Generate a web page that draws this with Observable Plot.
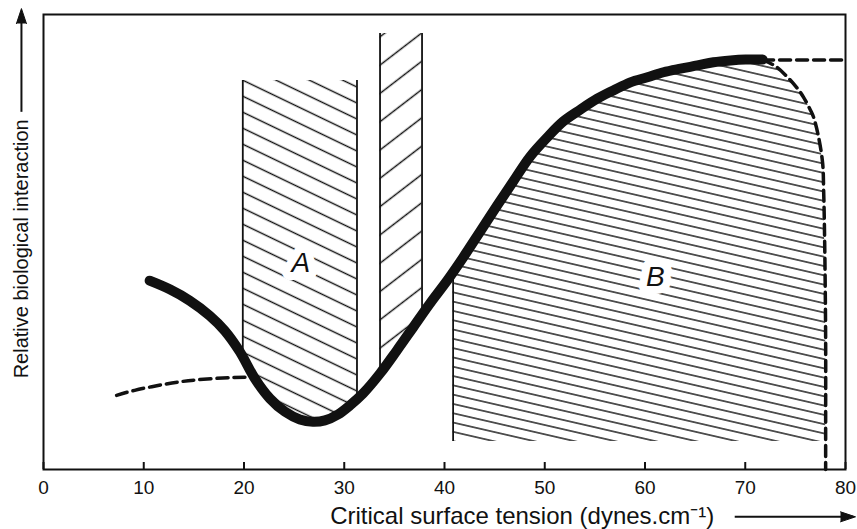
<!DOCTYPE html>
<html>
<head>
<meta charset="utf-8">
<script src="https://cdn.jsdelivr.net/npm/d3@7"></script>
<script src="https://cdn.jsdelivr.net/npm/@observablehq/plot@0.6"></script>
<style>
  html, body { margin: 0; padding: 0; background: #fff; }
  svg { display: block; }
</style>
</head>
<body>
<div id="chart"></div>
<script>
// ---- data (x: critical surface tension, dynes/cm; y: relative biological interaction, arbitrary 0-100) ----
const xTicks = [0, 10, 20, 30, 40, 50, 60, 70, 80];

// thick solid response curve
const curveX = [10.59, 12.59, 14.59, 16.58, 18.08, 19.58, 21.08, 22.58, 24.08, 25.57, 26.87, 28.07, 29.37, 30.57, 31.87, 33.57, 35.26, 36.86, 38.56, 40.26, 41.86, 43.56, 45.25, 46.85, 48.55, 50.25, 51.85, 53.55, 55.24, 56.84, 58.54, 60.24, 61.84, 63.54, 65.23, 66.83, 68.53, 70.03, 71.73];
const curveY = [41.5, 39.6, 37.1, 33.8, 30.5, 25.9, 20.0, 15.6, 12.7, 11.0, 10.5, 10.8, 12.1, 14.1, 16.7, 21.1, 26.2, 31.2, 36.5, 41.5, 46.6, 52.3, 58.0, 63.3, 68.8, 73.0, 76.5, 79.1, 81.5, 83.3, 85.1, 86.2, 87.3, 88.1, 88.8, 89.5, 89.9, 90.1, 90.1];

// dashed extrapolation, low-energy side
const dashLeftX = [7.29, 9.09, 11.29, 13.39, 15.28, 17.88, 20.28];
const dashLeftY = [16.3, 17.4, 18.4, 19.2, 19.7, 20.1, 20.3];

// dashed plateau and dashed drop, high-energy side
const plateauX = [71.73, 80];
const plateauY = [90.0, 90.0];
const dropX = [71.73, 73.03, 74.23, 75.22, 75.82, 76.52, 76.82, 77.32, 77.72, 77.82, 77.92, 78.02, 78.02, 78.02];
const dropY = [90.1, 88.6, 86.2, 83.7, 81.8, 78.9, 77.4, 73.0, 67.3, 61.3, 50.3, 28.4, 10.8, 0];

// hatched zones
const zoneA = [19.88, 31.27, 85.5];   // left, right, top
const zoneC = [33.57, 37.76, 95.8];   // left, right, top
const zoneB = [40.86, 6.15];          // left, bottom

// zone labels
const labelText = ["A", "B"];
const labelX = [25.67, 61.04];
const labelY = [45.3, 42.4];

// axis titles (annotation positions in data units)
const yTitle = "Relative biological interaction";
const yTitlePos = [-2.2, 48.5];
const yArrowY = [78.5, 101.3];
const xTitle = "Critical surface tension (dynes.cm\u207B\u00B9)";
const xTitlePos = [47.75, -10.3];
const xArrowX = [69.0, 81.0];
const xArrowY = -10.4;

// ---- helpers ----
const pts = (xs, ys) => xs.map((x, i) => ({x, y: ys[i]}));
function interp(xs, ys, x) {
  for (let i = 1; i < xs.length; i++) {
    if (x <= xs[i]) {
      const t = (x - xs[i - 1]) / (xs[i] - xs[i - 1]);
      return ys[i - 1] + t * (ys[i] - ys[i - 1]);
    }
  }
  return ys[ys.length - 1];
}
function bandUnder(x1, x2, top) {
  const out = [{x: x1, y1: interp(curveX, curveY, x1), y2: top}];
  curveX.forEach((x, i) => { if (x > x1 && x < x2) out.push({x, y1: curveY[i], y2: top}); });
  out.push({x: x2, y1: interp(curveX, curveY, x2), y2: top});
  return out;
}

const curve = pts(curveX, curveY);
const dashLeft = pts(dashLeftX, dashLeftY);
const plateau = pts(plateauX, plateauY);
const drop = pts(dropX, dropY);

const areaA = bandUnder(zoneA[0], zoneA[1], zoneA[2]);
const areaC = bandUnder(zoneC[0], zoneC[1], zoneC[2]);

// zone B: bottom line up to curve, along curve, then down dashed drop
const bTop = [{x: zoneB[0], y: interp(curveX, curveY, zoneB[0])}];
curveX.forEach((x, i) => { if (x > zoneB[0]) bTop.push({x, y: curveY[i]}); });
for (let i = 1; i < dropX.length; i++) {
  if (dropY[i] >= zoneB[1]) bTop.push({x: dropX[i], y: dropY[i]});
  else {
    const t = (zoneB[1] - dropY[i - 1]) / (dropY[i] - dropY[i - 1]);
    bTop.push({x: dropX[i - 1] + t * (dropX[i] - dropX[i - 1]), y: zoneB[1]});
    break;
  }
}
const areaB = bTop.map(d => ({x: d.x, y1: zoneB[1], y2: d.y}));

const edges = [
  {x: zoneA[0], y1: interp(curveX, curveY, zoneA[0]), y2: zoneA[2]},
  {x: zoneA[1], y1: interp(curveX, curveY, zoneA[1]), y2: zoneA[2]},
  {x: zoneC[0], y1: interp(curveX, curveY, zoneC[0]), y2: zoneC[2]},
  {x: zoneC[1], y1: interp(curveX, curveY, zoneC[1]), y2: zoneC[2]},
  {x: zoneB[0], y1: zoneB[1], y2: interp(curveX, curveY, zoneB[0])}
];

const font = "'Liberation Sans', Arial, Helvetica, sans-serif";
const ink = "#111";

const chart = Plot.plot({
  width: 857,
  height: 529,
  marginLeft: 43,
  marginRight: 12,
  marginTop: 14,
  marginBottom: 60,
  style: {fontFamily: font, background: "#fff", color: ink, overflow: "visible"},
  x: {domain: [0, 80], axis: null},
  y: {domain: [0, 100], axis: null},
  marks: [
    Plot.areaY(areaA, {x: "x", y1: "y1", y2: "y2", fill: "url(#hatchA)", curve: "catmull-rom"}),
    Plot.areaY(areaC, {x: "x", y1: "y1", y2: "y2", fill: "url(#hatchC)", curve: "catmull-rom"}),
    Plot.areaY(areaB, {x: "x", y1: "y1", y2: "y2", fill: "url(#hatchB)", curve: "catmull-rom"}),
    Plot.ruleX(edges, {x: "x", y1: "y1", y2: "y2", stroke: ink, strokeWidth: 1.8}),
    Plot.line(dashLeft, {x: "x", y: "y", stroke: ink, strokeWidth: 3.5, strokeDasharray: "11,6", curve: "natural"}),
    Plot.line(plateau, {x: "x", y: "y", stroke: ink, strokeWidth: 3.5, strokeDasharray: "11,6"}),
    Plot.line(drop, {x: "x", y: "y", stroke: ink, strokeWidth: 3.5, strokeDasharray: "11,6", curve: "catmull-rom"}),
    Plot.line(curve, {x: "x", y: "y", stroke: ink, strokeWidth: 10, strokeLinecap: "round", strokeLinejoin: "round", curve: "catmull-rom"}),
    Plot.text(labelText, {x: (d, i) => labelX[i], y: (d, i) => labelY[i], text: d => d, fontSize: 28, fontStyle: "italic", fill: ink, stroke: "white", strokeWidth: 16}),
    Plot.frame({stroke: ink, strokeWidth: 2}),
    Plot.tickX(xTicks, {x: d => d, insetTop: 448, stroke: ink, strokeWidth: 2}),
    Plot.axisX(xTicks, {tickSize: 0, tickPadding: 11, fontSize: 19, label: null, fill: ink}),
    // y title with arrow
    Plot.text([yTitle], {x: yTitlePos[0], y: yTitlePos[1], text: d => d, rotate: -90, fontSize: 20, fill: ink}),
    Plot.ruleX([yTitlePos[0]], {x: d => d, y1: yArrowY[0], y2: yArrowY[1] - 2, stroke: ink, strokeWidth: 2}),
    Plot.vector([yArrowY[1]], {x: yTitlePos[0], y: d => d, length: 15, rotate: 0, anchor: "end", shape: "spike", r: 5, fill: ink, stroke: ink, strokeWidth: 1}),
    // x title with arrow
    Plot.text([xTitle], {x: xTitlePos[0], y: xTitlePos[1], text: d => d, fontSize: 24, fill: ink}),
    Plot.ruleY([xArrowY], {y: d => d, x1: xArrowX[0], x2: xArrowX[1] - 0.2, stroke: ink, strokeWidth: 2}),
    Plot.vector([xArrowX[1]], {x: d => d, y: xArrowY, length: 15, rotate: 90, anchor: "end", shape: "spike", r: 5, fill: ink, stroke: ink, strokeWidth: 1})
  ]
});

// hatch patterns, phased to the zone corners through the chart's own scales
const sx = chart.scale("x"), sy = chart.scale("y");
const NS = "http://www.w3.org/2000/svg";
const defs = document.createElementNS(NS, "defs");
function hatch(id, slope, vSpacing, px, py, sw) {
  const th = Math.atan(slope);
  const sp = vSpacing * Math.cos(th);
  const v = -px * Math.sin(th) + py * Math.cos(th);
  const t = v - sp / 2;
  const p = document.createElementNS(NS, "pattern");
  p.setAttribute("id", id);
  p.setAttribute("patternUnits", "userSpaceOnUse");
  p.setAttribute("width", 40);
  p.setAttribute("height", sp);
  p.setAttribute("patternTransform", `rotate(${th * 180 / Math.PI}) translate(0, ${t})`);
  const l = document.createElementNS(NS, "line");
  l.setAttribute("x1", -1); l.setAttribute("x2", 41);
  l.setAttribute("y1", sp / 2); l.setAttribute("y2", sp / 2);
  l.setAttribute("stroke", ink);
  l.setAttribute("stroke-width", sw);
  p.appendChild(l);
  defs.appendChild(p);
}
hatch("hatchA", 0.48, 16, sx.apply(zoneA[0]), sy.apply(zoneA[2]), 1.3);
hatch("hatchC", -0.77, 28.3, sx.apply(zoneC[1]), sy.apply(zoneC[2]), 1.4);
hatch("hatchB", 0.23, 9.3, sx.apply(zoneB[0]), sy.apply(zoneB[1]), 1.5);
chart.insertBefore(defs, chart.firstChild);

document.getElementById("chart").appendChild(chart);
</script>
</body>
</html>
